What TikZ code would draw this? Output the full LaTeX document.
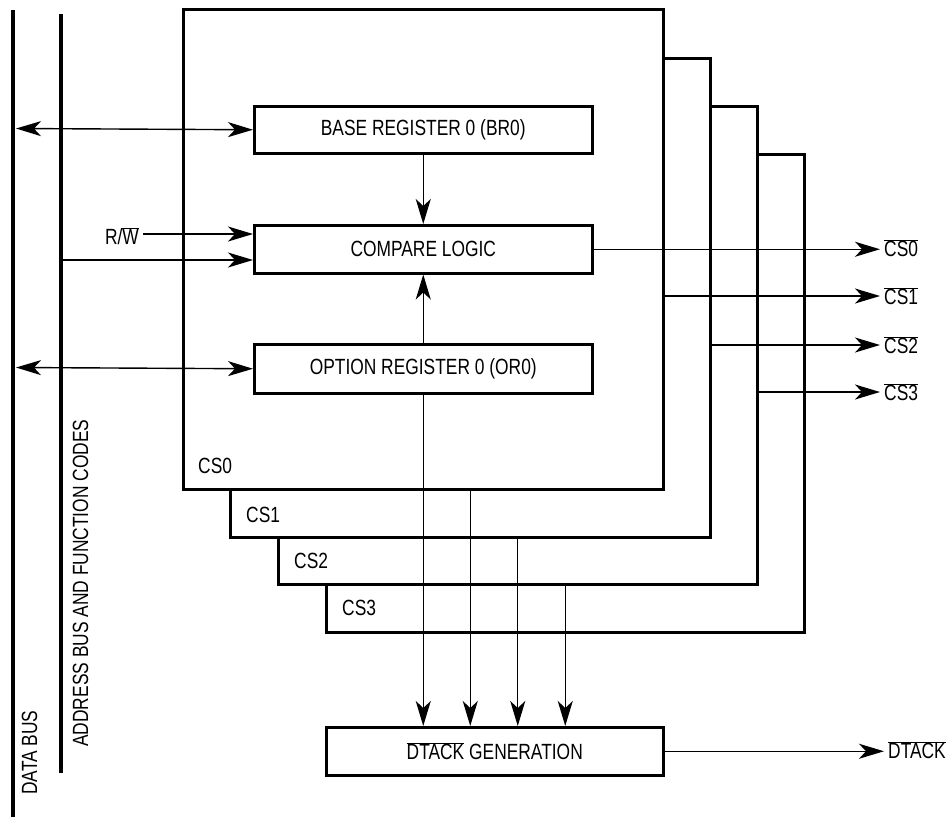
\documentclass[tikz,border=0pt]{standalone}
\usepackage{fontspec}
\setmainfont{Liberation Sans}[FakeStretch=0.79]
\usetikzlibrary{arrows.meta}
\newcommand\ovl[1]{$\overline{\mbox{#1}}$}
\tikzset{
  mytip/.tip={Stealth[length=25pt,width=15pt,inset=7pt]},
  txt/.style={font=\fontsize{22}{26}\selectfont, inner sep=0pt},
  csbox/.style={draw, line width=2.5pt, fill=white, inner sep=0pt, anchor=north west},
  regbox/.style={draw, line width=2.5pt, fill=white, inner sep=0pt, anchor=north west,
    font=\fontsize{22}{26}\selectfont},
  bus/.style={line width=4.6pt},
  arr/.style={-mytip, line width=1.4pt},
  darr/.style={mytip-mytip, line width=1.4pt},
  outlbl/.style={txt, anchor=west, inner xsep=4pt}
}
\begin{document}
\begin{tikzpicture}[x=1pt,y=-1pt]
\useasboundingbox (0,0) rectangle (947,817);
% stacked chip-select blocks
\node[csbox, minimum width=478pt, minimum height=478pt] (cs3) at (325,153) {};
\node[csbox, minimum width=479pt, minimum height=478pt] (cs2) at (277,105) {};
\node[csbox, minimum width=480pt, minimum height=479pt] (cs1) at (229,57) {};
\node[csbox, minimum width=480pt, minimum height=480pt] (cs0) at (182,8) {};
\node[txt, anchor=base west] (l0) at (198,473) {CS0};
\node[txt, anchor=base west] (l1) at (246,522) {CS1};
\node[txt, anchor=base west] (l2) at (294,568) {CS2};
\node[txt, anchor=base west] (l3) at (342,615) {CS3};
% registers
\node[regbox, minimum width=338pt, minimum height=47pt] (br) at (253,105) {BASE REGISTER 0 (BR0)};
\node[regbox, minimum width=338pt, minimum height=48pt] (cl) at (253,224) {COMPARE LOGIC};
\node[regbox, minimum width=338pt, minimum height=49pt] (or) at (253,343) {OPTION REGISTER 0 (OR0)};
\node[regbox, minimum width=337pt, minimum height=48pt] (dt) at (325,726) {\ovl{DTACK} GENERATION};
% buses
\coordinate (db1) at (13,10);
\coordinate (db2) at (13,817);
\coordinate (ab1) at (61,14);
\coordinate (ab2) at (61,773);
\draw[bus] (db1) -- (db2);
\draw[bus] (ab1) -- (ab2);
\node[txt, rotate=90, anchor=base west] (dbl) at (37,795) {DATA BUS};
\node[txt, rotate=90, anchor=base west] (abl) at (88,747) {ADDRESS BUS AND FUNCTION CODES};
% connections to registers
\coordinate (dbA) at (16,128.5);
\coordinate (dbB) at (16,367.5);
\draw[darr] (dbA) -- (br.west);
\draw[darr] (dbB) -- (or.west);
\node[txt, anchor=east, inner xsep=4pt] (rw) at (143,236) {R/\ovl{W}};
\coordinate (rwA) at (143,234);
\draw[arr] (rwA) -- (rwA -| cl.west);
\coordinate (abA) at (61,260);
\draw[arr] (abA) -- (abA -| cl.west);
\draw[arr] (br.south) -- (cl.north);
\draw[arr] (or.north) -- (cl.south);
% chip-select outputs
\node[outlbl] (o0) at (880,248) {\ovl{CS0}};
\node[outlbl] (o1) at (880,296) {\ovl{CS1}};
\node[outlbl] (o2) at (880,345) {\ovl{CS2}};
\node[outlbl] (o3) at (880,392) {\ovl{CS3}};
\draw[arr] (cl.east) -- (cl.east -| o0.west);
\draw[arr] (cs0.east |- o1.west) -- (o1.west);
\draw[arr] (cs1.east |- o2.west) -- (o2.west);
\draw[arr] (cs2.east |- o3.west) -- (o3.west);
% DTACK inputs
\draw[arr] (or.south) -- (or.south |- dt.north);
\draw[arr] (cs1.south |- cs0.south) -- (cs1.south |- dt.north);
\draw[arr] (cs2.south |- cs1.south) -- (cs2.south |- dt.north);
\draw[arr] (cs3.south |- cs2.south) -- (cs3.south |- dt.north);
% DTACK output
\node[outlbl] (od) at (884,750) {\ovl{DTACK}};
\draw[arr] (dt.east) -- (dt.east -| od.west);
\end{tikzpicture}
\end{document}
